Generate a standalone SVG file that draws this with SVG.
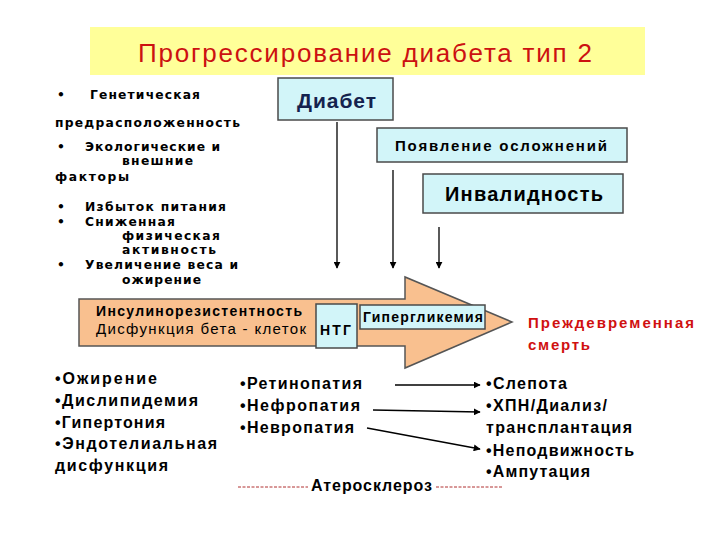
<svg xmlns="http://www.w3.org/2000/svg" width="720" height="540" viewBox="0 0 720 540">
<defs>
<style>
.t{font-family:"Liberation Sans",Arial,sans-serif;font-weight:bold;fill:#000;}
.l{font-family:"DejaVu Sans","Liberation Sans",Arial,sans-serif;font-size:12.3px;}
.b{font-size:16px;}
.box{fill:#d2f5f9;stroke:#4a4a4a;stroke-width:1.5;}
.ln{stroke:#000;stroke-width:1.3;fill:none;}
</style>
<marker id="ah" viewBox="0 0 10 10" refX="9" refY="5" markerWidth="7" markerHeight="7" orient="auto" markerUnits="userSpaceOnUse">
<path d="M0,0 L10,5 L0,10 z" fill="#000"/>
</marker>
</defs>
<rect width="720" height="540" fill="#fff"/>

<g id="title">
<rect x="90" y="27" width="555" height="48" fill="#ffff99"/>
<text x="138" y="62" textLength="454" font-family="'Liberation Sans',Arial,sans-serif" font-size="26" fill="#cc1111">Прогрессирование  диабета тип 2</text>
</g>

<g id="risk-factors">
<text class="t l" x="57" y="99">•</text>
<text class="t l" x="90" y="99" textLength="110">Генетическая</text>
<text class="t l" x="55" y="127" textLength="185">предрасположенность</text>
<text class="t l" x="57" y="151">•</text>
<text class="t l" x="85" y="151" textLength="135">Экологические и</text>
<text class="t l" x="122" y="165" textLength="71">внешние</text>
<text class="t l" x="55" y="181" textLength="74">факторы</text>
<text class="t l" x="57" y="211">•</text>
<text class="t l" x="85" y="211" textLength="141">Избыток питания</text>
<text class="t l" x="57" y="226">•</text>
<text class="t l" x="85" y="226" textLength="90">Сниженная</text>
<text class="t l" x="122" y="240" textLength="98">физическая</text>
<text class="t l" x="122" y="254" textLength="94">активность</text>
<text class="t l" x="57" y="269">•</text>
<text class="t l" x="85" y="269" textLength="153">Увеличение веса и</text>
<text class="t l" x="122" y="284" textLength="79">ожирение</text>
</g>

<g id="diabet">
<rect class="box" x="278" y="78" width="115" height="42"/>
<text x="297" y="108" textLength="79" font-family="'Liberation Sans',Arial,sans-serif" font-weight="bold" font-size="21" fill="#14224e">Диабет</text>
</g>
<g id="complications">
<rect class="box" x="377" y="128" width="250" height="34"/>
<text class="t" x="395" y="151" textLength="212" font-size="15">Появление осложнений</text>
</g>
<g id="disability">
<rect class="box" x="423" y="174" width="200" height="39"/>
<text class="t" x="445" y="201" textLength="158" font-size="20">Инвалидность</text>
</g>

<g id="progression-arrow">
<path d="M79,299 L405,299 L405,277 L512,322 L405,368 L405,346 L79,346 Z" fill="#f9c08f" stroke="#555" stroke-width="1.5"/>
<text class="t" x="96" y="316" textLength="206" font-size="14">Инсулинорезистентность</text>
<text x="96" y="334" textLength="210" font-family="'Liberation Sans',Arial,sans-serif" font-size="15" fill="#000">Дисфункция бета - клеток</text>
</g>
<g id="ntg">
<rect class="box" x="316" y="304" width="41" height="44"/>
<text class="t" x="320" y="335" textLength="31" font-size="14">НТГ</text>
</g>
<g id="hyperglycemia">
<rect class="box" x="360" y="305" width="125" height="24"/>
<text class="t" x="363" y="322" textLength="120" font-size="14">Гипергликемия</text>
</g>

<g id="death">
<text x="528" y="328" textLength="166" font-family="'Liberation Sans',Arial,sans-serif" font-weight="bold" font-size="15" fill="#d01010">Преждевременная</text>
<text x="528" y="350" textLength="62" font-family="'Liberation Sans',Arial,sans-serif" font-weight="bold" font-size="15" fill="#d01010">смерть</text>
</g>

<g id="conditions">
<text class="t b" x="55" y="384" textLength="102">•Ожирение</text>
<text class="t b" x="55" y="406" textLength="143">•Дислипидемия</text>
<text class="t b" x="55" y="428" textLength="110">•Гипертония</text>
<text class="t b" x="55" y="449" textLength="162">•Эндотелиальная</text>
<text class="t b" x="55" y="471" textLength="113">дисфункция</text>
</g>

<g id="complication-types">
<text class="t b" x="240" y="389" textLength="122">•Ретинопатия</text>
<text class="t b" x="240" y="411" textLength="120">•Нефропатия</text>
<text class="t b" x="240" y="433" textLength="114">•Невропатия</text>
</g>

<g id="outcomes">
<text class="t b" x="486" y="389" textLength="81">•Слепота</text>
<text class="t b" x="486" y="411" textLength="121">•ХПН/Диализ/</text>
<text class="t b" x="486" y="433" textLength="146">трансплантация</text>
<text class="t b" x="486" y="456" textLength="148">•Неподвижность</text>
<text class="t b" x="486" y="477" textLength="104">•Ампутация</text>
</g>

<g id="atherosclerosis">
<line x1="238" y1="487" x2="308" y2="487" stroke="#b03030" stroke-width="1" stroke-dasharray="3,1.5"/>
<text class="t" x="311" y="491" textLength="121" font-size="16">Атеросклероз</text>
<line x1="436" y1="487" x2="502" y2="487" stroke="#b03030" stroke-width="1" stroke-dasharray="3,1.5"/>
</g>

<g id="connectors">
<line class="ln" x1="337" y1="122" x2="337" y2="268" marker-end="url(#ah)"/>
<line class="ln" x1="393" y1="170" x2="393" y2="268" marker-end="url(#ah)"/>
<line class="ln" x1="439" y1="227" x2="439" y2="268" marker-end="url(#ah)"/>
<line class="ln" x1="395" y1="385" x2="480" y2="385" marker-end="url(#ah)"/>
<line class="ln" x1="373" y1="410" x2="480" y2="412" marker-end="url(#ah)"/>
<line class="ln" x1="367" y1="428" x2="480" y2="449" marker-end="url(#ah)"/>
</g>
</svg>
